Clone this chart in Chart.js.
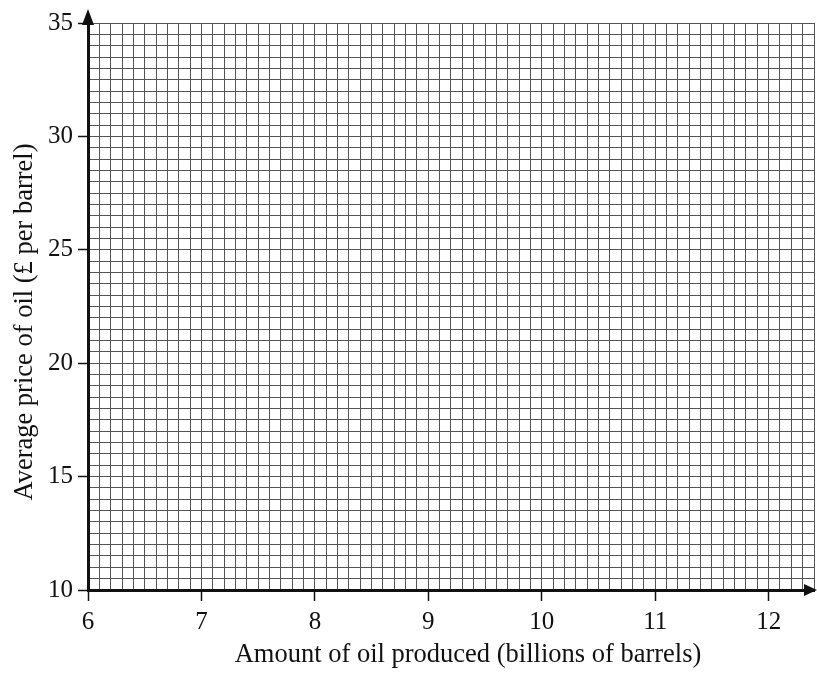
<!DOCTYPE html>
<html>
<head>
<meta charset="utf-8">
<script src="https://cdn.jsdelivr.net/npm/chart.js@4/dist/chart.umd.min.js"></script>
<style>
  html, body { margin: 0; padding: 0; background: #fff; }
  #wrap { width: 817px; height: 673px; }
</style>
</head>
<body>
<div id="wrap"><canvas id="oilChart"></canvas></div>
<script>
// Axis ranges and labels
const xTickLabels = [6, 7, 8, 9, 10, 11, 12];
const yTickLabels = [10, 15, 20, 25, 30, 35];
const xRange = [6, 12.4];
const yRange = [10, 35];
const xMinorStep = 0.1;
const yMinorStep = 0.5;
const xTitle = "Amount of oil produced (billions of barrels)";
const yTitle = "Average price of oil (£ per barrel)";

// No points are plotted on this blank grid
const oilPoints = [];

const serif = "'Liberation Serif', 'DejaVu Serif', serif";

function isLabelled(value, labels) {
  return labels.some(function (l) { return Math.abs(l - value) < 1e-6; });
}

// arrow heads on the axes and the two axis titles
const axisDecor = {
  id: "axisDecor",
  afterDraw(chart) {
    const { ctx, chartArea: a } = chart;
    ctx.save();
    ctx.fillStyle = "#111";
    ctx.beginPath();
    ctx.moveTo(a.left, a.top - 14);
    ctx.lineTo(a.left - 6, a.top + 2);
    ctx.lineTo(a.left + 6, a.top + 2);
    ctx.closePath();
    ctx.fill();
    ctx.beginPath();
    ctx.moveTo(a.right + 3, a.bottom);
    ctx.lineTo(a.right - 10, a.bottom - 6);
    ctx.lineTo(a.right - 10, a.bottom + 6);
    ctx.closePath();
    ctx.fill();

    ctx.font = "26.5px " + serif;
    ctx.textAlign = "center";
    ctx.textBaseline = "alphabetic";
    ctx.fillText(xTitle, a.left + 380, a.bottom + 72);

    ctx.translate(a.left - 56, a.top + 299);
    ctx.rotate(-Math.PI / 2);
    ctx.fillText(yTitle, 0, 0);
    ctx.restore();
  },
};

document.addEventListener("DOMContentLoaded", function () {
  const ctx = document.getElementById("oilChart").getContext("2d");

  new Chart(ctx, {
    type: "scatter",
    data: {
      datasets: [
        {
          label: "Oil",
          data: oilPoints,
          pointRadius: 3,
          backgroundColor: "#000",
        },
      ],
    },
    options: {
      responsive: true,
      maintainAspectRatio: false,
      animation: false,
      layout: { padding: { top: 23, right: 3, left: 0, bottom: 0 } },
      plugins: {
        legend: { display: false },
        tooltip: { enabled: false },
      },
      scales: {
        x: {
          type: "linear",
          min: xRange[0],
          max: xRange[1],
          afterFit: function (scale) {
            scale.height = 83;
            scale.paddingLeft = 0;
            scale.paddingRight = 0;
          },
          border: { display: true, color: "#111", width: 3 },
          grid: {
            color: "#555",
            lineWidth: 1,
            tickLength: 11,
            tickWidth: 1.5,
            tickColor: function (c) {
              return isLabelled(c.tick.value, xTickLabels) ? "#111" : "rgba(0,0,0,0)";
            },
          },
          ticks: {
            stepSize: xMinorStep,
            autoSkip: false,
            maxRotation: 0,
            minRotation: 0,
            padding: 6,
            color: "#111",
            font: { family: serif, size: 25 },
            callback: function (value) {
              return isLabelled(value, xTickLabels) ? String(Math.round(value)) : "";
            },
          },
        },
        y: {
          type: "linear",
          min: yRange[0],
          max: yRange[1],
          afterFit: function (scale) { scale.width = 88; },
          border: { display: true, color: "#111", width: 3 },
          grid: {
            color: "#555",
            lineWidth: 1,
            tickLength: 10,
            tickWidth: 1.5,
            tickColor: function (c) {
              return isLabelled(c.tick.value, yTickLabels) ? "#111" : "rgba(0,0,0,0)";
            },
          },
          ticks: {
            stepSize: yMinorStep,
            autoSkip: false,
            padding: 5,
            color: "#111",
            font: { family: serif, size: 25 },
            callback: function (value) {
              return isLabelled(value, yTickLabels) ? String(Math.round(value)) : "";
            },
          },
        },
      },
    },
    plugins: [axisDecor],
  });
});
</script>
</body>
</html>
